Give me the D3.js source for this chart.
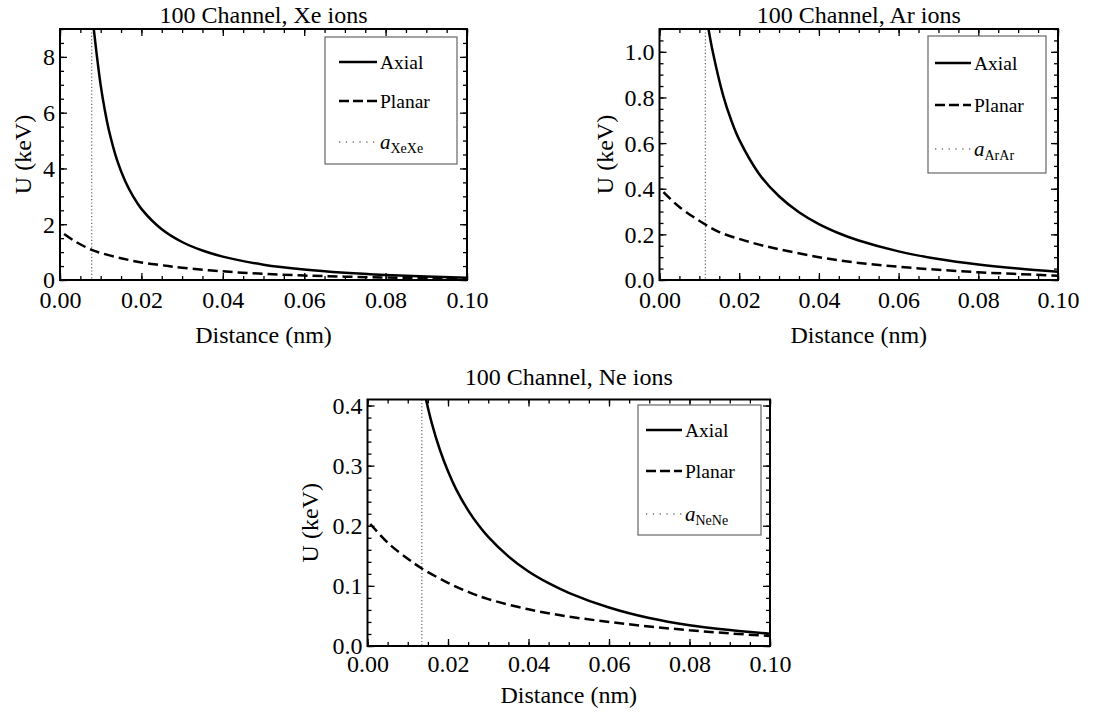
<!DOCTYPE html>
<html>
<head>
<meta charset="utf-8">
<script src="https://cdn.jsdelivr.net/npm/d3@7"></script>
<style>
	body { margin: 0; background: #fff; }
	#chart, #chart text { font-family: "Liberation Serif", "Times New Roman", Times, "DejaVu Serif", serif; }
	#chart text { fill: #000; }
</style>
</head>
<body>
<svg id="chart" width="1094" height="722"></svg>
<script>
"use strict";

var serif = "'Liberation Serif', 'Times New Roman', Times, 'DejaVu Serif', serif";

// Distance axis (nm), same for all three panels
var xTicks = [0, 0.02, 0.04, 0.06, 0.08, 0.10],
	xTickLabels = ["0.00", "0.02", "0.04", "0.06", "0.08", "0.10"];

// Xe ions: [distance nm, U keV]
var xeAxial = [
	[0.0083, 9.0], [0.009, 8.11], [0.010, 6.98], [0.011, 6.10], [0.012, 5.38],
	[0.014, 4.31], [0.016, 3.55], [0.018, 2.99], [0.020, 2.55], [0.025, 1.82],
	[0.030, 1.363], [0.035, 1.056], [0.040, 0.838], [0.050, 0.55], [0.060, 0.374],
	[0.070, 0.258], [0.080, 0.178], [0.090, 0.123], [0.100, 0.085]
];
var xePlanar = [
	[0.001, 1.65], [0.004, 1.36], [0.0078, 1.08], [0.010, 0.97], [0.015, 0.78],
	[0.020, 0.63], [0.025, 0.53], [0.030, 0.44], [0.040, 0.31], [0.050, 0.22],
	[0.060, 0.16], [0.070, 0.12], [0.080, 0.09], [0.090, 0.067], [0.100, 0.05]
];
var xeScreening = 0.0078,
	xeTicks = [0, 2, 4, 6, 8],
	xeTickLabels = ["0", "2", "4", "6", "8"];

// Ar ions
var arAxial = [
	[0.0123, 1.10], [0.0133, 1.006], [0.016, 0.807], [0.018, 0.70], [0.020, 0.615],
	[0.025, 0.465], [0.030, 0.367], [0.035, 0.297], [0.040, 0.245], [0.045, 0.205],
	[0.050, 0.173], [0.060, 0.1255], [0.070, 0.092], [0.080, 0.068], [0.090, 0.050],
	[0.100, 0.036]
];
var arPlanar = [
	[0.001, 0.385], [0.005, 0.32], [0.0115, 0.243], [0.015, 0.21], [0.020, 0.18],
	[0.025, 0.155], [0.030, 0.135], [0.040, 0.10], [0.050, 0.075], [0.060, 0.058],
	[0.070, 0.045], [0.080, 0.034], [0.090, 0.026], [0.100, 0.019]
];
var arScreening = 0.0115,
	arTicks = [0, 0.2, 0.4, 0.6, 0.8, 1.0],
	arTickLabels = ["0.0", "0.2", "0.4", "0.6", "0.8", "1.0"];

// Ne ions
var neAxial = [
	[0.0145, 0.411], [0.016, 0.370], [0.018, 0.326], [0.020, 0.2905], [0.022, 0.261],
	[0.025, 0.2257], [0.0277, 0.2], [0.030, 0.1815], [0.035, 0.149], [0.040, 0.124],
	[0.045, 0.1045], [0.050, 0.0885], [0.060, 0.064], [0.070, 0.0465], [0.080, 0.0345],
	[0.090, 0.0265], [0.100, 0.0205]
];
var nePlanar = [
	[0.0007, 0.203], [0.005, 0.172], [0.010, 0.145], [0.0135, 0.129], [0.020, 0.105],
	[0.025, 0.09], [0.030, 0.078], [0.040, 0.061], [0.050, 0.049], [0.060, 0.04],
	[0.070, 0.0325], [0.080, 0.0262], [0.090, 0.021], [0.100, 0.0167]
];
var neScreening = 0.0135,
	neTicks = [0, 0.1, 0.2, 0.3, 0.4],
	neTickLabels = ["0.0", "0.1", "0.2", "0.3", "0.4"];

var legendLabels = ["Axial", "Planar"];

// Layout of each panel (pixels)
var panels = [
	{
		title: "100 Channel, Xe ions", sub: "XeXe",
		axial: xeAxial, planar: xePlanar, screen: xeScreening,
		yMax: 9, yTicks: xeTicks, yLabels: xeTickLabels, yMinor: 0.5,
		left: 60, right: 467, top: 29, bottom: 280,
		titleY: 23, xLabY: 308, axisLabY: 343, yLabX: 31,
		legend: {x0: 325, y0: 37, x1: 457, y1: 164, lx0: 339, lx1: 377, rows: [62, 101, 142]}
	},
	{
		title: "100 Channel, Ar ions", sub: "ArAr",
		axial: arAxial, planar: arPlanar, screen: arScreening,
		yMax: 1.1, yTicks: arTicks, yLabels: arTickLabels, yMinor: 0.05,
		left: 659.5, right: 1058, top: 29, bottom: 280,
		titleY: 23, xLabY: 308, axisLabY: 343, yLabX: 613,
		legend: {x0: 928, y0: 36, x1: 1046, y1: 173, lx0: 935, lx1: 971, rows: [63, 105, 149]}
	},
	{
		title: "100 Channel, Ne ions", sub: "NeNe",
		axial: neAxial, planar: nePlanar, screen: neScreening,
		yMax: 0.41, yTicks: neTicks, yLabels: neTickLabels, yMinor: 0.02,
		left: 367.5, right: 770, top: 399.5, bottom: 646,
		titleY: 385, xLabY: 672, axisLabY: 703, yLabX: 318,
		legend: {x0: 638, y0: 405, x1: 761, y1: 535, lx0: 646, lx1: 682, rows: [430, 471, 514]}
	}
];

var fontSize = 24,
	legendFontSize = 19.5;

var svg = d3.select("#chart").attr("font-family", serif);

/**
 * Draws one potential panel
 * @param {object} p panel layout and data
 * @param {number} i panel index
 */
function drawPanel(p, i) {
	var x = d3.scaleLinear().domain([0, 0.1]).range([p.left, p.right]),
		y = d3.scaleLinear().domain([0, p.yMax]).range([p.bottom, p.top]);

	var g = svg.append("g");

	// Clip curves to the frame
	g.append("clipPath")
		.attr("id", "clip" + i)
		.append("rect")
		.attr("x", p.left)
		.attr("y", p.top)
		.attr("width", p.right - p.left)
		.attr("height", p.bottom - p.top);

	var xMinor = d3.range(0, 0.1 + 1e-9, 0.005),
		yMinor = d3.range(0, p.yMax + 1e-9, p.yMinor);

	// Ticks on all four sides, pointing inwards
	function tickAxis(axis, pos, vals, size) {
		var a = g.append("g")
			.attr("transform", pos)
			.call(axis.tickValues(vals).tickSizeInner(-size).tickSizeOuter(0).tickFormat(""));
		a.select(".domain").remove();
		a.selectAll("line").attr("stroke", "#000").attr("stroke-width", 1.3);
		return a;
	}
	tickAxis(d3.axisBottom(x), "translate(0," + p.bottom + ")", xMinor, 4);
	tickAxis(d3.axisTop(x), "translate(0," + p.top + ")", xMinor, 4);
	tickAxis(d3.axisLeft(y), "translate(" + p.left + ",0)", yMinor, 4);
	tickAxis(d3.axisRight(y), "translate(" + p.right + ",0)", yMinor, 4);
	tickAxis(d3.axisTop(x), "translate(0," + p.top + ")", xTicks, 7);
	tickAxis(d3.axisRight(y), "translate(" + p.right + ",0)", p.yTicks, 7);

	// Labelled axes
	var xAxis = g.append("g")
		.attr("transform", "translate(0," + p.bottom + ")")
		.call(d3.axisBottom(x).tickValues(xTicks).tickSizeInner(-7).tickSizeOuter(0)
			.tickFormat(function (d, k) { return xTickLabels[k]; }));
	xAxis.attr("font-family", serif).attr("font-size", fontSize);
	xAxis.select(".domain").remove();
	xAxis.selectAll("line").attr("stroke", "#000").attr("stroke-width", 1.3);
	xAxis.selectAll("text")
		.attr("y", p.xLabY - p.bottom)
		.attr("dy", null);

	var yAxis = g.append("g")
		.attr("transform", "translate(" + p.left + ",0)")
		.call(d3.axisLeft(y).tickValues(p.yTicks).tickSizeInner(-7).tickSizeOuter(0)
			.tickFormat(function (d, k) { return p.yLabels[k]; }));
	yAxis.attr("font-family", serif).attr("font-size", fontSize);
	yAxis.select(".domain").remove();
	yAxis.selectAll("line").attr("stroke", "#000").attr("stroke-width", 1.3);
	yAxis.selectAll("text")
		.attr("x", -5)
		.attr("dy", "0.33em");

	// Screening length marker
	g.append("line")
		.attr("x1", x(p.screen))
		.attr("x2", x(p.screen))
		.attr("y1", p.top)
		.attr("y2", p.bottom)
		.attr("stroke", "#555")
		.attr("stroke-width", 1.1)
		.attr("stroke-dasharray", "1.2,2.2");

	var line = d3.line()
		.x(function (d) { return x(d[0]); })
		.y(function (d) { return y(d[1]); })
		.curve(d3.curveCatmullRom.alpha(0.5));

	g.append("path")
		.datum(p.planar)
		.attr("clip-path", "url(#clip" + i + ")")
		.attr("d", line)
		.attr("fill", "none")
		.attr("stroke", "#000")
		.attr("stroke-width", 2.5)
		.attr("stroke-dasharray", "10,5");

	g.append("path")
		.datum(p.axial)
		.attr("clip-path", "url(#clip" + i + ")")
		.attr("d", line)
		.attr("fill", "none")
		.attr("stroke", "#000")
		.attr("stroke-width", 2.5);

	// Frame
	g.append("rect")
		.attr("x", p.left)
		.attr("y", p.top)
		.attr("width", p.right - p.left)
		.attr("height", p.bottom - p.top)
		.attr("fill", "none")
		.attr("stroke", "#000")
		.attr("stroke-width", 2);

	// Title and axis labels
	g.append("text")
		.attr("x", (p.left + p.right) / 2)
		.attr("y", p.titleY)
		.attr("text-anchor", "middle")
		.attr("font-size", fontSize)
		.text(p.title);

	g.append("text")
		.attr("x", (p.left + p.right) / 2)
		.attr("y", p.axisLabY)
		.attr("text-anchor", "middle")
		.attr("font-size", fontSize)
		.text("Distance (nm)");

	g.append("text")
		.attr("transform", "translate(" + p.yLabX + "," + ((p.top + p.bottom) / 2) + ") rotate(-90)")
		.attr("text-anchor", "middle")
		.attr("font-size", fontSize)
		.text("U (keV)");

	// Legend
	var L = p.legend;
	g.append("rect")
		.attr("x", L.x0)
		.attr("y", L.y0)
		.attr("width", L.x1 - L.x0)
		.attr("height", L.y1 - L.y0)
		.attr("fill", "#fff")
		.attr("stroke", "#666")
		.attr("stroke-width", 1.2);

	var dashes = [null, "10,4", "1.3,5.5"],
		widths = [2.5, 2.5, 1];
	L.rows.forEach(function (ry, k) {
		g.append("line")
			.attr("x1", L.lx0)
			.attr("x2", L.lx1)
			.attr("y1", ry)
			.attr("y2", ry)
			.attr("stroke", k === 2 ? "#333" : "#000")
			.attr("stroke-width", widths[k])
			.attr("stroke-dasharray", dashes[k]);
		var t = g.append("text")
			.attr("x", L.lx1 + 3)
			.attr("y", ry + 6.5)
			.attr("font-size", legendFontSize);
		if (k < 2) {
			t.text(legendLabels[k]);
		} else {
			t.append("tspan").attr("font-style", "italic").attr("font-size", 21).text("a");
			t.append("tspan").attr("dy", 4).attr("font-size", 14).text(p.sub);
		}
	});
}

panels.forEach(drawPanel);
</script>
</body>
</html>
